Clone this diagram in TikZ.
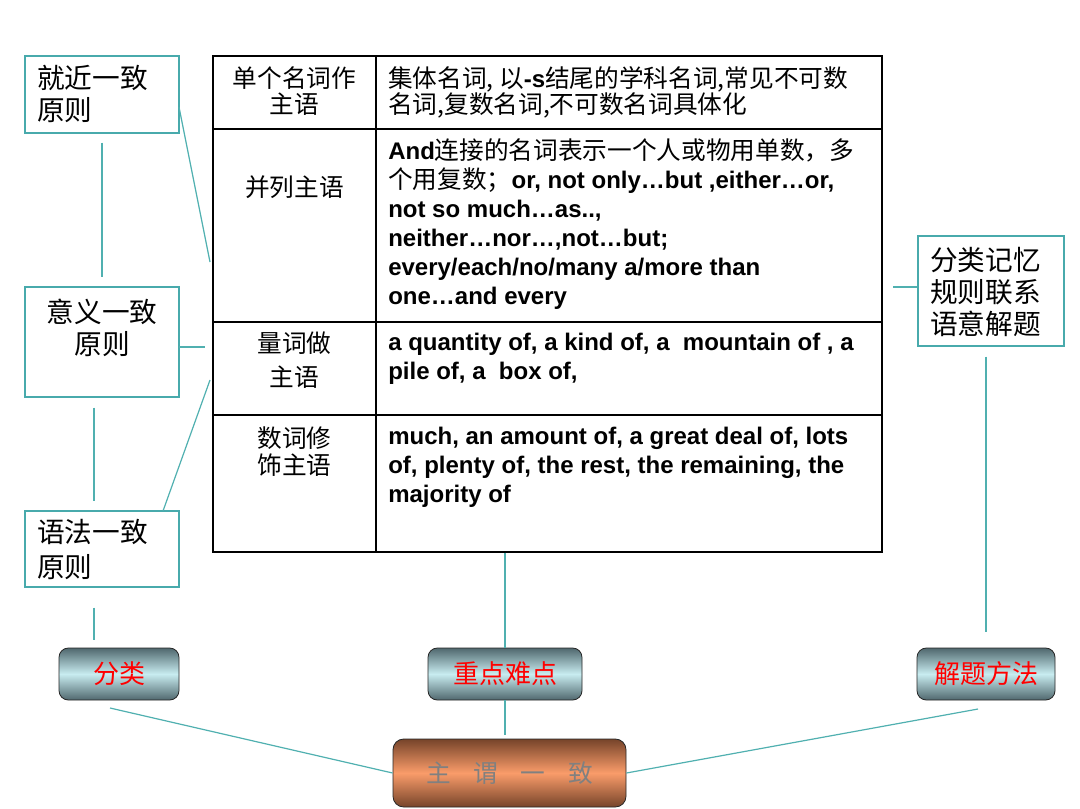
\documentclass[tikz,border=0pt]{standalone}
\usepackage{fontspec}
\setmainfont{Liberation Sans}
\newfontfamily\cjk{Noto Sans CJK SC}
\newfontfamily\enb{Liberation Sans}
\definecolor{linec}{RGB}{80,176,176}
\definecolor{boxc}{RGB}{72,170,172}
\definecolor{btntop}{RGB}{80,104,110}
\definecolor{btnmid}{RGB}{200,236,240}
\definecolor{maintop}{RGB}{118,68,42}
\definecolor{mainmid}{RGB}{250,156,106}
\definecolor{maintext}{RGB}{128,128,128}
\newcommand{\E}[1]{{\enb\bfseries\fontsize{18}{21.75}\selectfont #1}}
\begin{document}
\begin{tikzpicture}[x=0.75pt,y=-0.75pt,
  conn/.style={draw=linec, line width=0.9pt},
  sidebox/.style={draw=boxc, line width=0.9pt, rectangle, inner sep=0pt},
  btn/.style={rectangle, rounded corners=7pt, draw=black!85, line width=0.6pt,
     top color=btntop, bottom color=btntop, middle color=btnmid, inner sep=0pt,
     text=red, font=\cjk\fontsize{19.5}{22}\selectfont},
  mainbtn/.style={rectangle, rounded corners=8pt, draw=black!85, line width=0.6pt,
     top color=maintop, bottom color=maintop, middle color=mainmid, inner sep=0pt,
     text=maintext, font=\cjk\fontsize{18.5}{22}\selectfont},
  boxtxt/.style={inner sep=0pt, align=left, font=\cjk\fontsize{20.75}{24}\selectfont},
  cell/.style={inner sep=0pt, align=left, font=\cjk\fontsize{18.5}{21.75}\selectfont},
  lcell/.style={inner sep=0pt, align=center, font=\cjk\fontsize{18.5}{19.5}\selectfont},
  grid/.style={draw=black, line width=1.1pt}
]
\useasboundingbox (0,0) rectangle (1080,808);
\fill[white] (0,0) rectangle (1080,808);

% ---------- table ----------
\node[grid, rectangle, minimum width=669*0.75pt, minimum height=496*0.75pt, inner sep=0pt] (tbl) at (547.5,304) {};
\draw[grid] (376,56) -- (376,552);
\draw[grid] (213,129) -- (882,129);
\draw[grid] (213,322) -- (882,322);
\draw[grid] (213,415) -- (882,415);

\node[lcell, anchor=north] (l1) at (294.5,66) {单个名词作\\[0pt]主语};
\node[lcell, anchor=north] (l2) at (294.5,175) {并列主语};
\node[lcell, anchor=north] (l3) at (294.5,332) {量词做\\[6pt]主语};
\node[lcell, anchor=north] (l4) at (294.5,426) {数词修\\[1pt]饰主语};

\node[cell, anchor=north west] (r1) at (388,66) {集体名词, 以\E{-s}结尾的学科名词,常见不可数\\[-2pt]名词,复数名词,不可数名词具体化};
\node[cell, anchor=north west] (r2) at (388,138) {\E{And}连接的名词表示一个人或物用单数，多\\
个用复数；\E{or, not only…but ,either…or,}\\
\E{not so much…as..,}\\
\E{neither…nor…,not…but;}\\
\E{every/each/no/many a/more than}\\
\E{one…and every}};
\node[cell, anchor=north west] (r3) at (388,333) {\E{a quantity of, a kind of, a \ mountain of , a}\\
\E{pile of, a \ box of,}};
\node[cell, anchor=north west] (r4) at (388,427) {\E{much, an amount of, a great deal of, lots}\\
\E{of, plenty of, the rest, the remaining, the}\\
\E{majority of}};

% ---------- left boxes ----------
\node[sidebox, minimum width=154*0.75pt, minimum height=77*0.75pt] (b1) at (102,94.5) {};
\node[boxtxt, anchor=north west] (t1) at (37,65) {就近一致\\原则};
\node[sidebox, minimum width=154*0.75pt, minimum height=110*0.75pt] (b2) at (102,342) {};
\node[boxtxt, align=center, anchor=north] (t2) at (102,299) {意义一致\\原则};
\node[sidebox, minimum width=154*0.75pt, minimum height=76*0.75pt] (b3) at (102,549) {};
\node[boxtxt, anchor=north west] (t3) at (37,519) {语法一致\\[2pt]原则};

% ---------- right box ----------
\node[sidebox, minimum width=146*0.75pt, minimum height=110*0.75pt] (rb) at (991,291) {};
\node[boxtxt, anchor=north west, font=\cjk\fontsize{20.75}{24}\selectfont] (tr) at (930,247) {分类记忆\\规则联系\\语意解题};

% ---------- bottom buttons ----------
\node[btn, minimum width=120*0.75pt, minimum height=52*0.75pt] (k1) at (119,674) {分类};
\node[btn, minimum width=154*0.75pt, minimum height=52*0.75pt] (k2) at (505,674) {重点难点};
\node[btn, minimum width=138*0.75pt, minimum height=52*0.75pt] (k3) at (986,674) {解题方法};
\node[mainbtn, minimum width=233*0.75pt, minimum height=68*0.75pt] (mn) at (509.5,773) {主\hspace{17pt}谓\hspace{17pt}一\hspace{17pt}致};

% ---------- free ends ----------
\coordinate (c1a) at (179,107);
\coordinate (c1b) at (210,262);
\coordinate (c2a) at (179,347);
\coordinate (c2b) at (205,347);
\coordinate (c3a) at (163,511);
\coordinate (c3b) at (210,380);
\coordinate (crb) at (893,287);
\coordinate (ck1) at (110,708);
\coordinate (ck3) at (978,709);

% ---------- connectors ----------
\draw[conn, shorten <=9*0.75pt, shorten >=9*0.75pt] (b1.south) -- (b2.north);
\draw[conn, shorten <=10*0.75pt, shorten >=9*0.75pt] ([xshift=-8*0.75pt]b2.south) -- ([xshift=-8*0.75pt]b3.north);
\draw[conn, shorten <=20*0.75pt, shorten >=8*0.75pt] ([xshift=-8*0.75pt]b3.south) -- ([xshift=-8*0.75pt]b3.south |- k1.north);
\draw[conn] (c1a) -- (c1b);
\draw[conn] (c2a) -- (c2b);
\draw[conn] (c3a) -- (c3b);
\draw[conn] (crb) -- (crb -| rb.west);
\draw[conn, shorten <=10*0.75pt, shorten >=16*0.75pt] (k3.north |- rb.south) -- (k3.north);
\draw[conn] (k2.north |- tbl.south) -- (k2.north);
\draw[conn, shorten >=4*0.75pt] (k2.south) -- (k2.south |- mn.north);
\draw[conn] (ck1) -- (mn.west);
\draw[conn] (ck3) -- (mn.east);
\end{tikzpicture}
\end{document}
